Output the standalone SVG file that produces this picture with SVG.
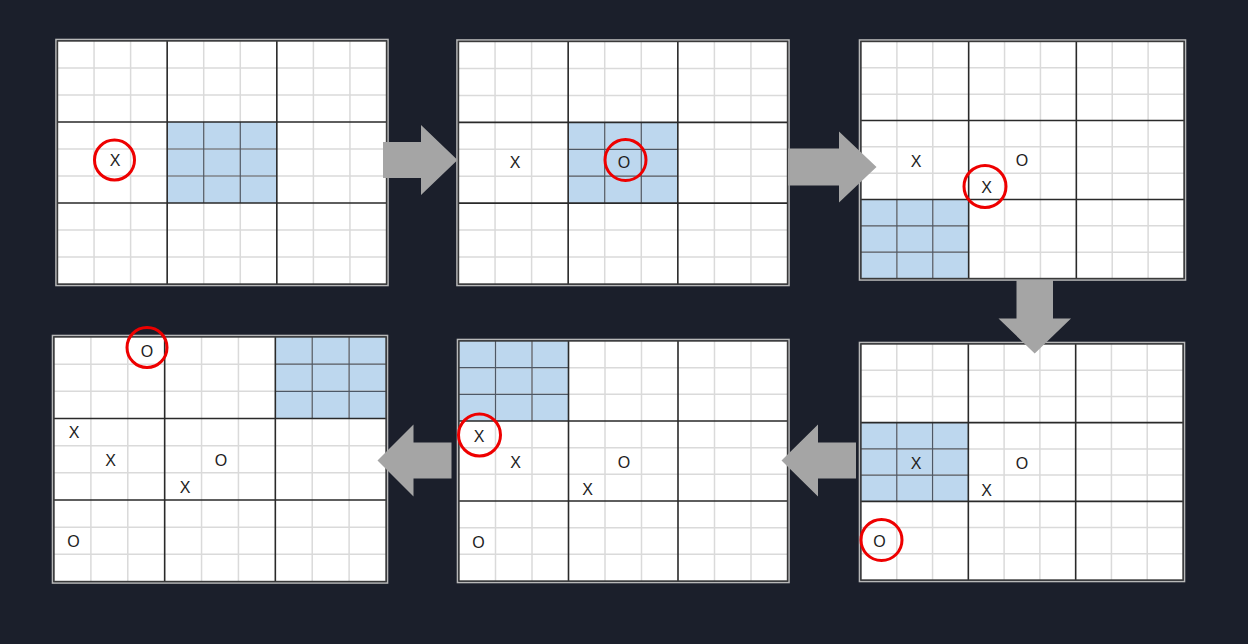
<svg xmlns="http://www.w3.org/2000/svg" width="1248" height="644" viewBox="0 0 1248 644">
<style>
.bg{fill:#ffffff}
.hl{fill:#bdd7ee}
.thin{fill:none;stroke:#dadada;stroke-width:1.5}
.hlthin{fill:none;stroke:#4d5866;stroke-width:1.2}
.thick{fill:none;stroke:#2a2a2a;stroke-width:1.6}
.fo{fill:none;stroke:#b8b8b8;stroke-width:1.6}
.fi{fill:none;stroke:#3a3a3a;stroke-width:1.4}
.m{font-family:"Liberation Sans",Arial,sans-serif;font-size:16px;fill:#222;text-anchor:middle}
.sel{fill:none;stroke:#ee0000;stroke-width:3}
.arrow{fill:#a5a5a5}
</style>
<rect width="1248" height="644" fill="#1b1f2b"/>

<g id="board1">
<rect class="bg" x="57.5" y="41" width="329" height="243"/>
<rect class="hl" x="167.17" y="122" width="109.66" height="81"/>
<path class="thin" d="M94.06 41V284M130.61 41V284M203.72 41V284M240.28 41V284M313.39 41V284M349.94 41V284M57.5 68H386.5M57.5 95H386.5M57.5 149H386.5M57.5 176H386.5M57.5 230H386.5M57.5 257H386.5"/>
<path class="hlthin" d="M203.72 122V203M240.28 122V203M167.17 149H276.83M167.17 176H276.83"/>
<path class="thick" d="M167.17 41V284M276.83 41V284M57.5 122H386.5M57.5 203H386.5"/>
<rect class="fo" x="56" y="39.5" width="332" height="246"/>
<rect class="fi" x="57.5" y="41" width="329" height="243"/>
<text class="m" x="115" y="166">X</text>
<circle class="sel" cx="114.5" cy="160" r="20"/>
</g>

<g id="board2">
<rect class="bg" x="458.5" y="41.5" width="329" height="242.5"/>
<rect class="hl" x="568.17" y="122.33" width="109.66" height="80.84"/>
<path class="thin" d="M495.06 41.5V284M531.61 41.5V284M604.72 41.5V284M641.28 41.5V284M714.39 41.5V284M750.94 41.5V284M458.5 68.44H787.5M458.5 95.39H787.5M458.5 149.28H787.5M458.5 176.22H787.5M458.5 230.11H787.5M458.5 257.06H787.5"/>
<path class="hlthin" d="M604.72 122.33V203.17M641.28 122.33V203.17M568.17 149.28H677.83M568.17 176.22H677.83"/>
<path class="thick" d="M568.17 41.5V284M677.83 41.5V284M458.5 122.33H787.5M458.5 203.17H787.5"/>
<rect class="fo" x="457" y="40" width="332" height="245.5"/>
<rect class="fi" x="458.5" y="41.5" width="329" height="242.5"/>
<text class="m" x="515" y="167.5">X</text>
<text class="m" x="624" y="167.5">O</text>
<circle class="sel" cx="625.5" cy="160" r="20.5"/>
</g>

<g id="board3">
<rect class="bg" x="861" y="41.5" width="323" height="237"/>
<rect class="hl" x="861" y="199.5" width="107.67" height="79"/>
<path class="thin" d="M896.89 41.5V278.5M932.78 41.5V278.5M1004.56 41.5V278.5M1040.44 41.5V278.5M1112.22 41.5V278.5M1148.11 41.5V278.5M861 67.83H1184M861 94.17H1184M861 146.83H1184M861 173.17H1184M861 225.83H1184M861 252.17H1184"/>
<path class="hlthin" d="M896.89 199.5V278.5M932.78 199.5V278.5M861 225.83H968.67M861 252.17H968.67"/>
<path class="thick" d="M968.67 41.5V278.5M1076.33 41.5V278.5M861 120.5H1184M861 199.5H1184"/>
<rect class="fo" x="859.5" y="40" width="326" height="240"/>
<rect class="fi" x="861" y="41.5" width="323" height="237"/>
<text class="m" x="916" y="166.5">X</text>
<text class="m" x="1022" y="165.5">O</text>
<text class="m" x="986.5" y="192.5">X</text>
<circle class="sel" cx="985" cy="186.5" r="21"/>
</g>

<g id="board6">
<rect class="bg" x="861" y="344" width="322" height="236"/>
<rect class="hl" x="861" y="422.67" width="107.33" height="78.66"/>
<path class="thin" d="M896.78 344V580M932.56 344V580M1004.11 344V580M1039.89 344V580M1111.44 344V580M1147.22 344V580M861 370.22H1183M861 396.44H1183M861 448.89H1183M861 475.11H1183M861 527.56H1183M861 553.78H1183"/>
<path class="hlthin" d="M896.78 422.67V501.33M932.56 422.67V501.33M861 448.89H968.33M861 475.11H968.33"/>
<path class="thick" d="M968.33 344V580M1075.67 344V580M861 422.67H1183M861 501.33H1183"/>
<rect class="fo" x="859.5" y="342.5" width="325" height="239"/>
<rect class="fi" x="861" y="344" width="322" height="236"/>
<text class="m" x="916" y="468.5">X</text>
<text class="m" x="1022" y="468.5">O</text>
<text class="m" x="986.5" y="495.5">X</text>
<text class="m" x="879.5" y="546.5">O</text>
<circle class="sel" cx="881.5" cy="540" r="20.5"/>
</g>

<g id="board5">
<rect class="bg" x="459" y="341" width="328.5" height="240"/>
<rect class="hl" x="459" y="341" width="109.5" height="80"/>
<path class="thin" d="M495.5 341V581M532 341V581M605 341V581M641.5 341V581M714.5 341V581M751 341V581M459 367.67H787.5M459 394.33H787.5M459 447.67H787.5M459 474.33H787.5M459 527.67H787.5M459 554.33H787.5"/>
<path class="hlthin" d="M495.5 341V421M532 341V421M459 367.67H568.5M459 394.33H568.5"/>
<path class="thick" d="M568.5 341V581M678 341V581M459 421H787.5M459 501H787.5"/>
<rect class="fo" x="457.5" y="339.5" width="331.5" height="243"/>
<rect class="fi" x="459" y="341" width="328.5" height="240"/>
<text class="m" x="479" y="441.5">X</text>
<text class="m" x="515.5" y="468">X</text>
<text class="m" x="624" y="467.5">O</text>
<text class="m" x="587.5" y="494.5">X</text>
<text class="m" x="478.5" y="547.5">O</text>
<circle class="sel" cx="479.5" cy="435" r="21"/>
</g>

<g id="board4">
<rect class="bg" x="54" y="337" width="332" height="244.5"/>
<rect class="hl" x="275.33" y="337" width="110.67" height="81.5"/>
<path class="thin" d="M90.89 337V581.5M127.78 337V581.5M201.56 337V581.5M238.44 337V581.5M312.22 337V581.5M349.11 337V581.5M54 364.17H386M54 391.33H386M54 445.67H386M54 472.83H386M54 527.17H386M54 554.33H386"/>
<path class="hlthin" d="M312.22 337V418.5M349.11 337V418.5M275.33 364.17H386M275.33 391.33H386"/>
<path class="thick" d="M164.67 337V581.5M275.33 337V581.5M54 418.5H386M54 500H386"/>
<rect class="fo" x="52.5" y="335.5" width="335" height="247.5"/>
<rect class="fi" x="54" y="337" width="332" height="244.5"/>
<text class="m" x="147" y="357">O</text>
<text class="m" x="74" y="438">X</text>
<text class="m" x="110.5" y="465.5">X</text>
<text class="m" x="221" y="465.5">O</text>
<text class="m" x="185" y="493">X</text>
<text class="m" x="73.5" y="546.5">O</text>
<circle class="sel" cx="147" cy="347.5" r="20"/>
</g>

<g id="connectors">
<polygon class="arrow" points="383,142 421,142 421,125 457.5,160 421,195 421,178 383,178"/>
<polygon class="arrow" points="788,148.5 839,148.5 839,131.5 876.5,167 839,202.5 839,185.5 788,185.5"/>
<polygon class="arrow" points="1016.5,280 1053,280 1053,318.5 1071,318.5 1034.7,353.5 998.5,318.5 1016.5,318.5"/>
<polygon class="arrow" points="856,442.5 818,442.5 818,424.5 781.5,460.5 818,496.5 818,478.5 856,478.5"/>
<polygon class="arrow" points="451.5,442.5 413.5,442.5 413.5,424.5 377.5,460.5 413.5,496.5 413.5,478.5 451.5,478.5"/>
</g>
</svg>
